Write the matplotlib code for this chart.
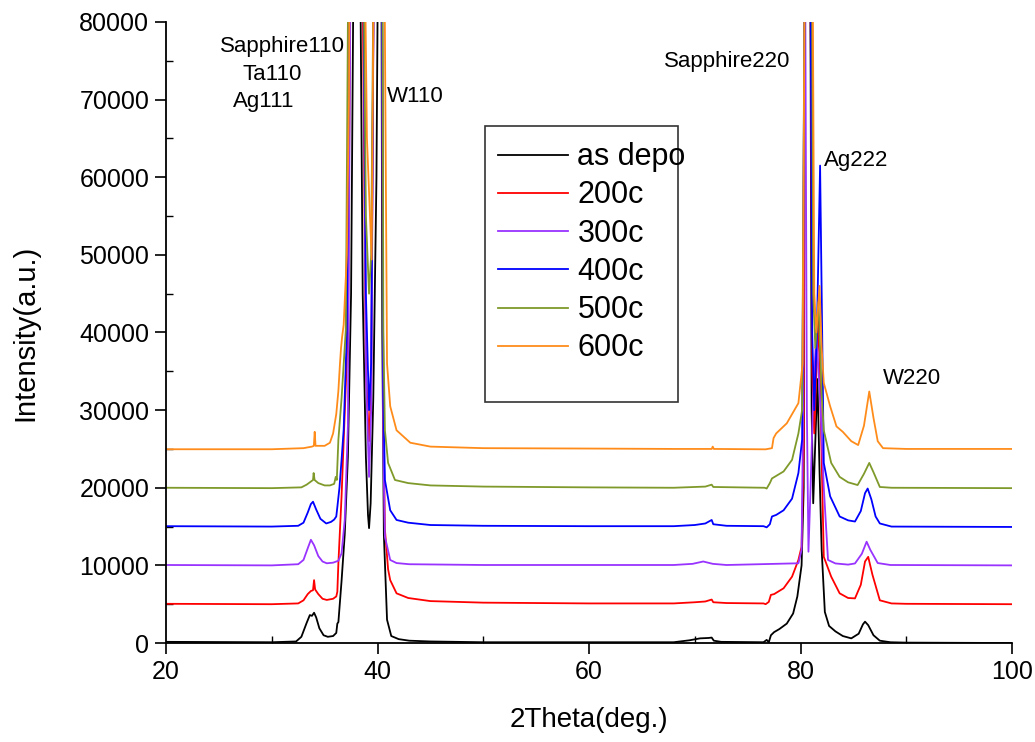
import matplotlib
matplotlib.use("Agg")
import matplotlib.pyplot as plt
from matplotlib.patches import Rectangle
from matplotlib.ticker import MultipleLocator

# ---------------- data (2Theta, plotted intensity incl. offset) ----------------
labels = ["as depo", "200c", "300c", "400c", "500c", "600c"]
colors = ["#000000", "#ff0000", "#9933ff", "#0000ff", "#7f9a2a", "#ff8c1a"]

as_depo = [(20, 150), (30, 100), (32.3, 200), (32.8, 800), (33.3, 2600), (33.6, 3600), (33.8, 3500),
           (34.0, 3900), (34.2, 3300), (34.5, 1900), (34.9, 1000), (35.3, 800), (35.8, 900), (36.1, 1300),
           (36.2, 2500), (36.3, 2700), (36.6, 8000), (36.9, 14000), (37.2, 24000), (37.5, 45000),
           (37.8, 100000), (38.3, 100000), (38.6, 45000), (38.9, 24000), (39.1, 16500), (39.2, 14800),
           (39.35, 18000), (39.6, 31500), (39.9, 60000), (40.1, 100000), (40.35, 100000), (40.45, 40000),
           (40.6, 14000), (40.9, 3000), (41.3, 900), (42, 500), (43, 300), (45, 200), (50, 100), (60, 100),
           (68, 100), (69.5, 350), (70.5, 600), (71.3, 650), (71.6, 700), (71.8, 300), (72.5, 150),
           (76.5, 100), (76.8, 400), (77.0, 100), (77.2, 1000), (77.5, 1400), (78.0, 1800), (78.7, 2500),
           (79.3, 3800), (79.7, 6000), (80.1, 10000), (80.3, 20000), (80.45, 100000), (80.9, 100000),
           (81.05, 30000), (81.2, 18000), (81.4, 26000), (81.6, 34000), (81.8, 22000), (82.0, 12000),
           (82.3, 4000), (82.7, 2200), (83.3, 1500), (84, 900), (84.8, 600), (85.5, 1200), (85.9, 2400),
           (86.1, 2750), (86.4, 2300), (86.9, 1000), (87.5, 300), (88.5, 100), (90, 50), (100, 0)]

c200 = [(20, 5050), (30, 5000), (32.5, 5100), (33.0, 5500), (33.4, 6300), (33.7, 6700), (33.9, 6800),
        (34.0, 8100), (34.1, 6900), (34.4, 6300), (34.8, 5700), (35.2, 5550), (35.8, 5700), (36.1, 6000),
        (36.2, 6600), (36.3, 10300), (36.6, 18900), (36.9, 29600), (37.2, 40300), (37.5, 100000),
        (38.5, 100000), (38.9, 35000), (39.2, 26000), (39.4, 33000), (39.7, 100000), (40.4, 100000),
        (40.55, 30000), (40.7, 14600), (41.0, 9500), (41.2, 8100), (41.8, 6400), (42.9, 5800), (45, 5400),
        (50, 5200), (60, 5100), (68, 5100), (70, 5250), (71.0, 5350), (71.6, 5600), (71.75, 5250),
        (73, 5150), (76.5, 5100), (76.7, 5000), (77.0, 5300), (77.2, 6200), (77.5, 6300), (78.4, 7050),
        (79.2, 8550), (79.8, 10700), (80.1, 12400), (80.3, 25000), (80.45, 100000), (80.9, 100000),
        (81.1, 35000), (81.3, 27000), (81.5, 35000), (81.7, 42000), (81.9, 30000), (82.2, 11100),
        (82.9, 8550), (83.7, 6400), (84.5, 5800), (85.15, 5750), (85.7, 7500), (86.1, 10500),
        (86.4, 11100), (86.8, 8800), (87.5, 5500), (88.6, 5100), (90, 5050), (100, 5000)]

c300 = [(20, 10050), (30, 10000), (32.5, 10150), (33.0, 10700), (33.4, 12200), (33.7, 13300),
        (34.0, 12600), (34.4, 11200), (34.8, 10500), (35.2, 10270), (35.8, 10350), (36.3, 10600),
        (36.6, 11550), (36.9, 15850), (37.2, 28000), (37.5, 100000), (38.6, 100000), (38.9, 35000),
        (39.2, 21400), (39.4, 30000), (39.7, 100000), (40.4, 100000), (40.55, 25000), (40.7, 13700),
        (41.2, 10700), (41.8, 10300), (43, 10150), (50, 10050), (60, 10050), (68, 10050), (69.8, 10200),
        (70.8, 10500), (71.7, 10200), (73, 10050), (79.8, 10270), (80.1, 12000), (80.25, 30000),
        (80.4, 100000), (80.6, 30000), (80.75, 11760), (80.95, 20000), (81.2, 32000), (81.5, 40000),
        (81.9, 30000), (82.2, 20000), (82.6, 10700), (83.3, 10250), (84.5, 10100), (85.15, 10250),
        (85.8, 11500), (86.25, 13050), (86.6, 12000), (87.3, 10300), (88.5, 10050), (100, 10000)]

c400 = [(20, 15050), (30, 15000), (32.5, 15100), (33.0, 15500), (33.4, 16800), (33.7, 17900),
        (33.9, 18200), (34.2, 17200), (34.6, 16000), (35.15, 15400), (35.6, 15600), (35.9, 15900),
        (36.1, 16300), (36.2, 17500), (36.4, 20000), (36.6, 23600), (36.8, 27500), (37.1, 40000),
        (37.4, 100000), (38.6, 100000), (38.9, 45000), (39.2, 30000), (39.4, 36000), (39.7, 100000),
        (40.4, 100000), (40.55, 32000), (40.7, 21000), (41.2, 17100), (41.8, 15850), (42.9, 15500),
        (45, 15200), (50, 15100), (60, 15050), (68, 15050), (70, 15200), (71.0, 15400), (71.6, 15850),
        (71.75, 15300), (73, 15100), (76.5, 15050), (76.8, 14900), (77.1, 15300), (77.3, 16300),
        (77.7, 16500), (78.4, 17100), (79.2, 18600), (79.8, 21900), (80.15, 26200), (80.45, 100000),
        (80.9, 100000), (81.1, 40000), (81.3, 30000), (81.55, 40000), (81.85, 61500), (82.0, 45000),
        (82.2, 23200), (82.8, 18900), (83.7, 16300), (84.5, 15800), (85.15, 15650), (85.7, 17000),
        (86.1, 19300), (86.35, 19900), (86.7, 18500), (87.1, 16300), (87.5, 15400), (88.6, 15000),
        (100, 14950)]

c500 = [(20, 20000), (30, 19950), (32.8, 20050), (33.3, 20400), (33.7, 20800), (33.9, 21000),
        (33.96, 21900), (34.05, 21000), (34.4, 20600), (35.0, 20300), (35.5, 20300), (35.9, 20500),
        (36.05, 21400), (36.15, 21000), (36.3, 26200), (36.6, 31500), (37.0, 40300), (37.3, 100000),
        (38.6, 100000), (38.9, 55000), (39.2, 45000), (39.4, 50000), (39.7, 100000), (40.45, 100000),
        (40.55, 40000), (40.7, 27400), (41.0, 23200), (41.65, 21000), (42.9, 20600), (45, 20300),
        (50, 20150), (60, 20050), (68, 20000), (71.0, 20150), (71.6, 20400), (71.75, 20100),
        (76.6, 20000), (76.8, 19900), (77.1, 20600), (77.3, 21200), (78.4, 22100), (79.2, 23600),
        (79.8, 27000), (80.15, 30000), (80.45, 100000), (81.05, 100000), (81.2, 45000), (81.4, 38000),
        (81.7, 44000), (82.0, 32000), (82.2, 27400), (82.9, 23200), (83.7, 21400), (84.5, 20700),
        (85.4, 20350), (86.0, 21800), (86.5, 23200), (86.9, 22000), (87.5, 20100), (88.6, 20000),
        (100, 19950)]

c600 = [(20, 24960), (30, 24960), (33.0, 25100), (33.8, 25300), (33.98, 25400), (34.06, 27200),
        (34.14, 25400), (35.0, 25400), (35.5, 25800), (35.8, 27000), (36.1, 29500), (36.3, 32500),
        (36.45, 36000), (36.55, 38000), (36.65, 39400), (36.8, 41000), (37.1, 50000), (37.3, 70000),
        (37.4, 100000), (38.7, 100000), (39.0, 65000), (39.45, 49400), (39.7, 100000), (40.6, 100000),
        (40.9, 36000), (41.2, 30500), (41.8, 27400), (43.1, 25800), (45, 25300), (50, 25100),
        (60, 25050), (68, 25000), (71.6, 25000), (71.7, 25300), (71.8, 25000), (76.7, 24950),
        (77.3, 25100), (77.45, 26400), (77.7, 27000), (78.7, 28300), (79.8, 30900), (80.2, 36000),
        (80.45, 100000), (81.1, 100000), (81.3, 45000), (81.5, 40000), (81.8, 46000), (82.0, 38000),
        (82.2, 33500), (82.8, 30500), (83.4, 27900), (84.0, 27200), (84.8, 26000), (85.45, 25500),
        (86.0, 28000), (86.5, 32400), (86.9, 29000), (87.3, 26000), (87.8, 25100), (90, 25000),
        (100, 25000)]

series = [as_depo, c200, c300, c400, c500, c600]

peak_labels = ["Sapphire110", "Ta110", "Ag111", "W110", "Sapphire220", "Ag222", "W220"]
peak_label_pos = [(31.0, 76800), (30.0, 73200), (29.2, 69800), (43.6, 70400),
                  (73.1, 74900), (85.3, 62200), (90.5, 34100)]

# ---------------- figure ----------------
plt.rcParams["font.family"] = ["Liberation Sans", "DejaVu Sans"]
fig = plt.figure(figsize=(10.35, 7.42), dpi=100)
ax = fig.add_axes([0.1604, 0.1334, 0.8174, 0.837])

for pts, lab, col in zip(series, labels, colors):
    xs = [p[0] for p in pts]
    ys = [p[1] for p in pts]
    ax.plot(xs, ys, color=col, lw=1.3, label=lab)

ax.set_xlim(20, 100)
ax.set_ylim(0, 80000)
ax.xaxis.set_major_locator(MultipleLocator(20))
ax.xaxis.set_minor_locator(MultipleLocator(10))
ax.yaxis.set_major_locator(MultipleLocator(10000))
ax.yaxis.set_minor_locator(MultipleLocator(5000))
ax.tick_params(which="major", direction="out", length=8, width=1.2, labelsize=18, pad=4)
ax.tick_params(which="minor", direction="in", length=5, width=1.0)
for s in ["top", "right"]:
    ax.spines[s].set_visible(False)
for s in ["left", "bottom"]:
    ax.spines[s].set_linewidth(1.3)

ax.set_xlabel("2Theta(deg.)", fontsize=20)
ax.xaxis.set_label_coords(0.5, -0.103)
ax.set_ylabel("Intensity(a.u.)", fontsize=21, labelpad=29)

for t, (x, y) in zip(peak_labels, peak_label_pos):
    ax.text(x, y, t, fontsize=16, ha="center", va="center")

# legend with its own frame
ax.add_patch(Rectangle((0.3766, 0.388), 0.2282, 0.4445, transform=ax.transAxes,
                       fill=True, facecolor="white", edgecolor="#333333", lw=1.2, zorder=5))
leg = ax.legend(loc="upper left", bbox_to_anchor=(0.378, 0.826), frameon=False,
                fontsize=22, handlelength=2.3, handletextpad=0.3, labelspacing=0.27,
                borderaxespad=0.0)
leg.set_zorder(6)
for h in leg.get_lines():
    h.set_linewidth(1.3)

fig.savefig("out.png", dpi=100, facecolor="white")
